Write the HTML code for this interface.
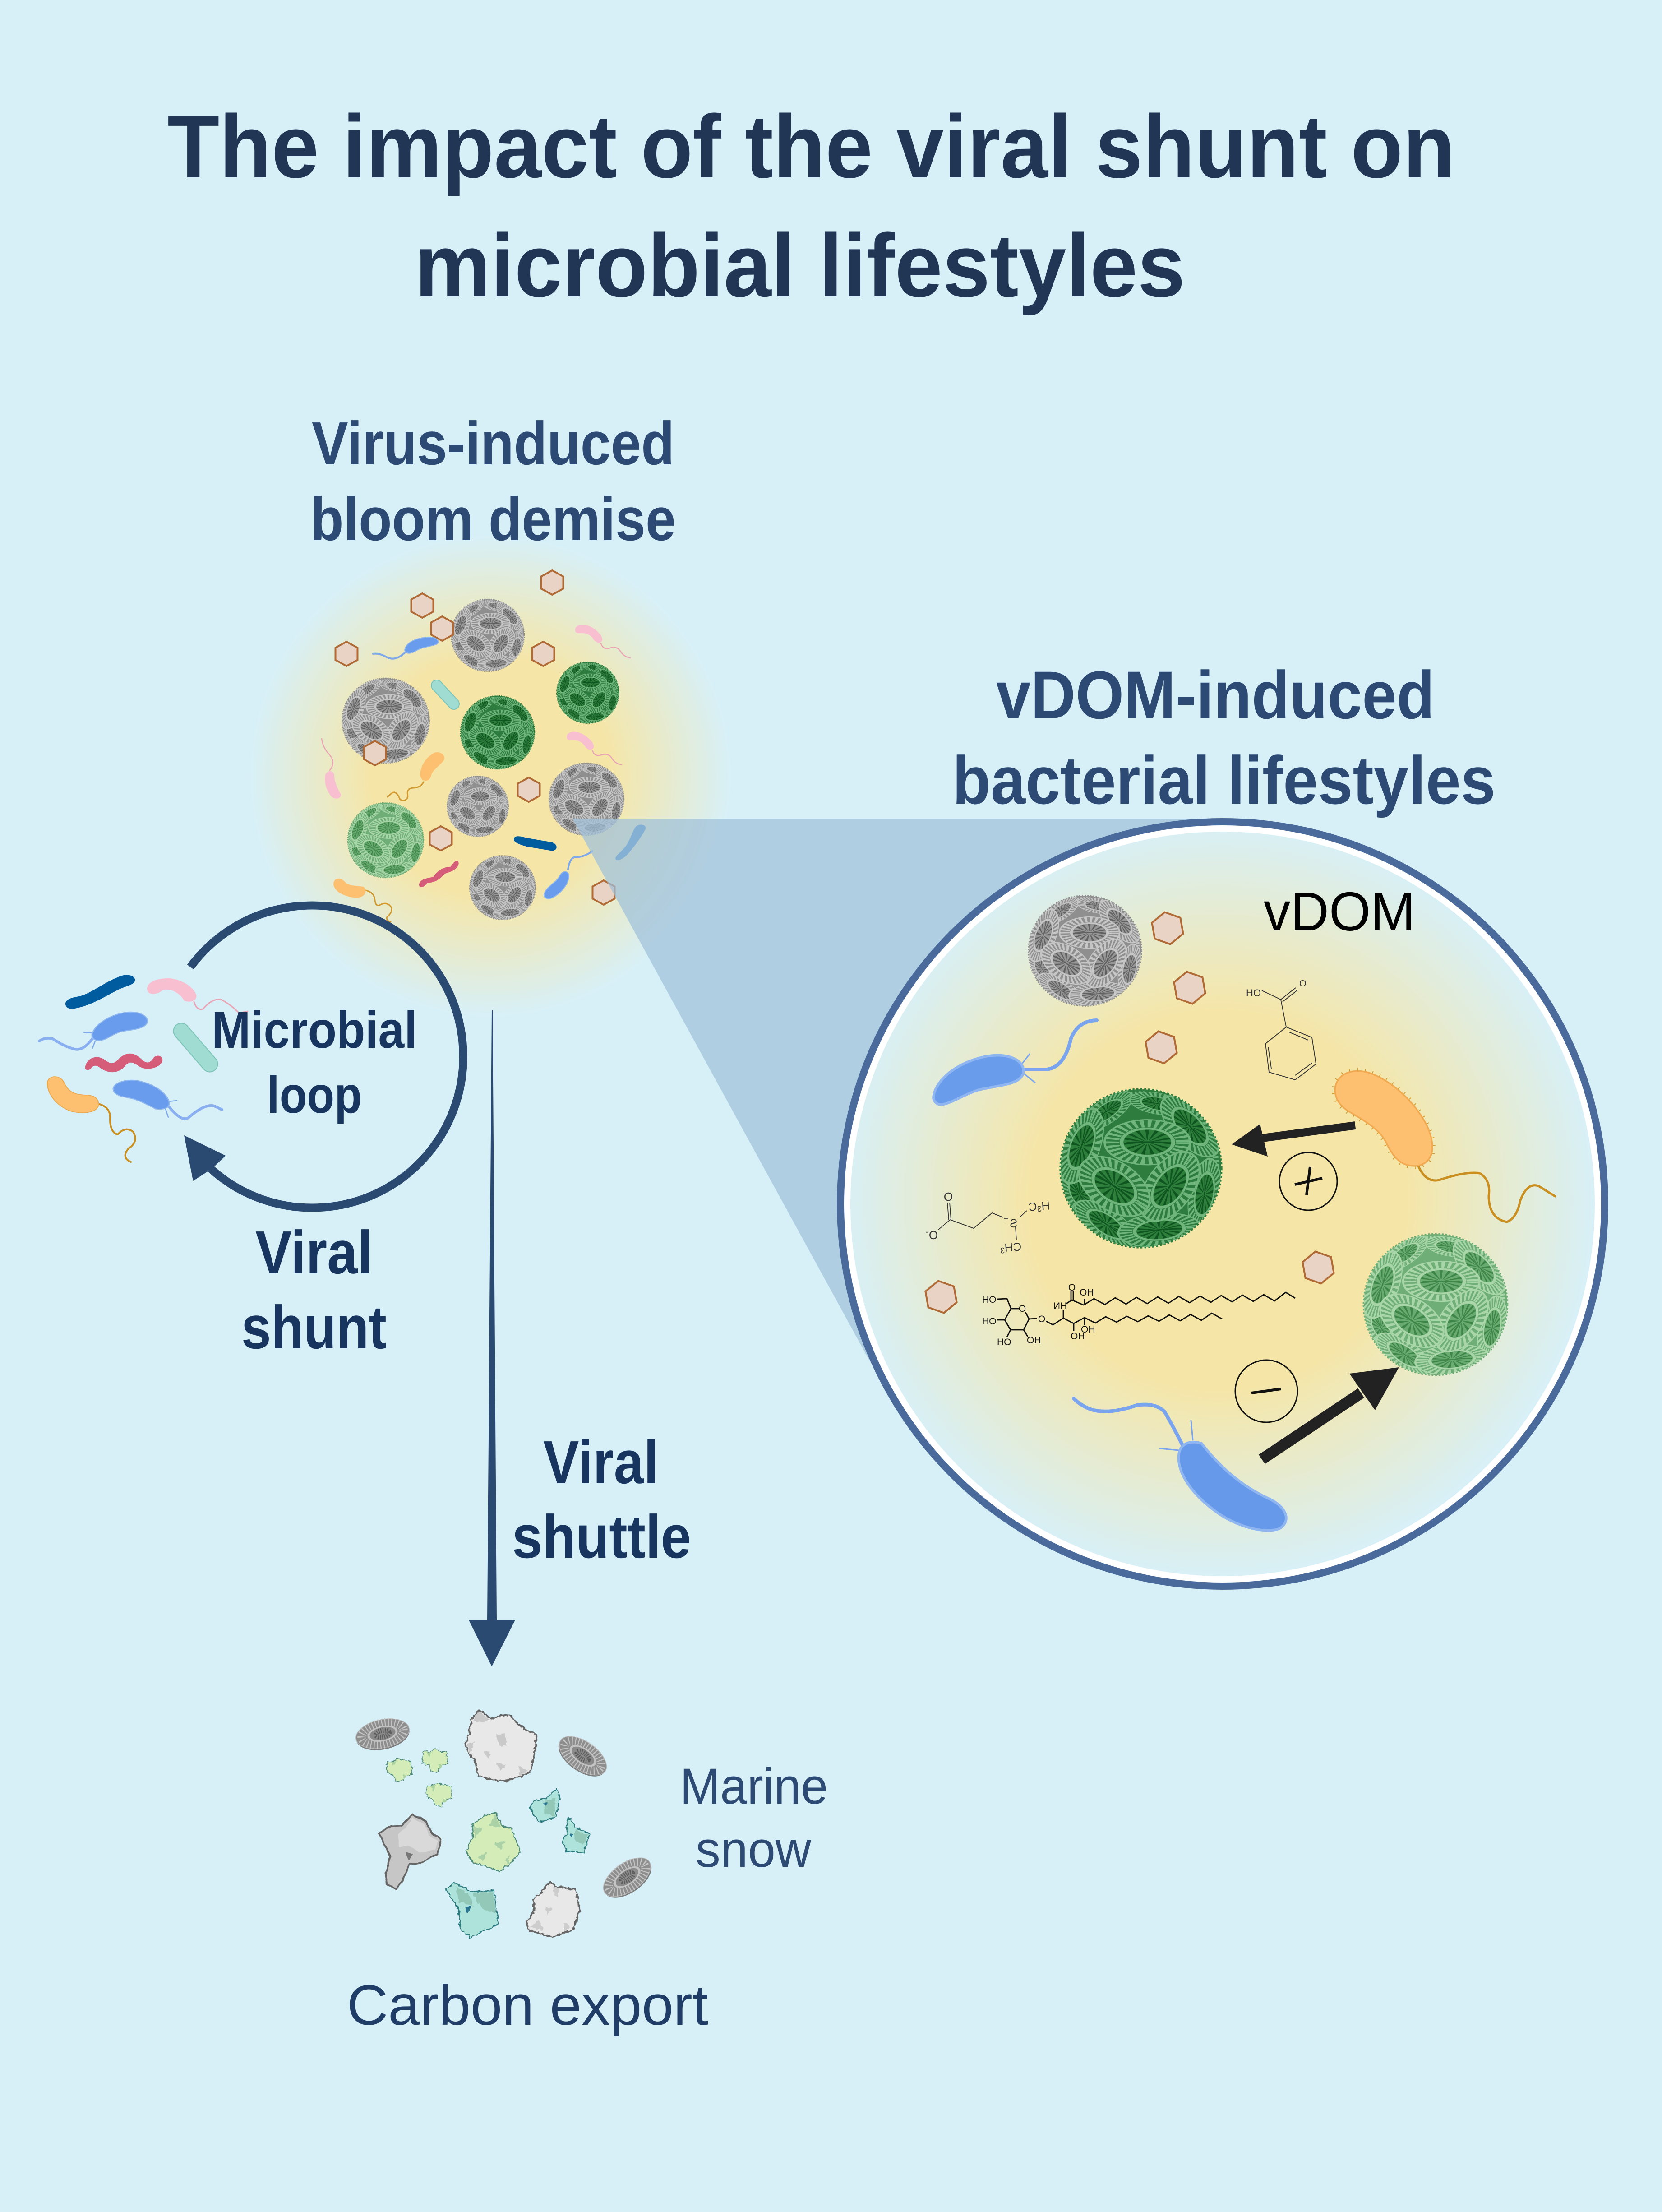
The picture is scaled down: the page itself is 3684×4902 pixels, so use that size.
<!DOCTYPE html>
<html lang="en"><head><meta charset="utf-8"><title>The impact of the viral shunt on microbial lifestyles</title>
<style>
html,body{margin:0;padding:0;background:#d7f0f8}
svg{display:block}
text{font-family:"Liberation Sans",sans-serif}
.t{font-weight:700}
.tail{fill:none;stroke-linecap:round;stroke-linejoin:round}
.c1{fill:none;stroke:#333;stroke-width:1.8;stroke-linejoin:round}
.c2{fill:none;stroke:#111;stroke-width:2.8;stroke-linejoin:round}
.m1{font-size:26px;fill:#333}
.m2{font-size:21px;fill:#111}
.bl{fill:#e8e8e8;stroke:#666;stroke-width:3.5;stroke-linejoin:round}
.gr{fill:#d4edb8;stroke:#4d8a7a;stroke-width:2.5;stroke-linejoin:round}
.te{fill:#aee3db;stroke:#2f7c80;stroke-width:2.5;stroke-linejoin:round}
</style></head><body>
<svg xmlns="http://www.w3.org/2000/svg" width="3684" height="4902" viewBox="0 0 3684 4902">
<defs>
<radialGradient id="g1" gradientUnits="userSpaceOnUse" cx="1087" cy="1720" r="535">
<stop offset="0" stop-color="#f5e6a8"/><stop offset=".5" stop-color="#f5e6a8"/><stop offset="1" stop-color="#d7f0f8"/></radialGradient>
<radialGradient id="g2" gradientUnits="userSpaceOnUse" cx="2700" cy="2660" r="840">
<stop offset="0" stop-color="#f5e6a8"/><stop offset=".5" stop-color="#f5e6a8"/><stop offset="1" stop-color="#d7f0f8"/></radialGradient>
<filter id="rg" x="-15%" y="-15%" width="130%" height="130%" color-interpolation-filters="sRGB">
<feTurbulence type="fractalNoise" baseFrequency=".13" numOctaves="2" seed="3" result="n"/>
<feDisplacementMap in="SourceGraphic" in2="n" scale="9" xChannelSelector="R" yChannelSelector="G"/>
</filter>
<filter id="rs" x="-15%" y="-15%" width="130%" height="130%" color-interpolation-filters="sRGB">
<feTurbulence type="fractalNoise" baseFrequency=".06" numOctaves="1" seed="7" result="n"/>
<feDisplacementMap in="SourceGraphic" in2="n" scale="7" xChannelSelector="R" yChannelSelector="G"/>
</filter>
<clipPath id="sp"><circle r="100"/></clipPath>
<g id="pl">
<circle r="1.9" fill="var(--b)" stroke="var(--l)" stroke-width=".1"/>
<circle r="1.56" fill="none" stroke="var(--l)" stroke-width=".6" stroke-dasharray=".16 .16"/>
<circle r="1.15" fill="var(--h)" stroke="var(--l)" stroke-width=".17"/>
<circle r=".62" fill="none" stroke="var(--s)" stroke-width=".85" stroke-dasharray=".1 .16"/>
<ellipse rx=".95" ry=".07" fill="var(--s)"/>
</g>
<g id="co">
<circle r="100" fill="var(--b)"/>
<circle r="99" fill="none" stroke="var(--b)" stroke-width="5" stroke-dasharray="2.4 2.4"/>
<circle r="94" fill="none" stroke="var(--l)" stroke-width="7" stroke-dasharray="2.5 2.5"/>
<g clip-path="url(#sp)">
<use href="#pl" transform="translate(-43,-72) rotate(-35) scale(20,8)"/>
<use href="#pl" transform="translate(20,-82) rotate(10) scale(18,7)"/>
<use href="#pl" transform="translate(79,33) rotate(-80) scale(24,10)"/>
<use href="#pl" transform="translate(-76,33) rotate(60) scale(18,9)"/>
<use href="#pl" transform="translate(-43,71) rotate(35) scale(24,10)"/>
<use href="#pl" transform="translate(23,78) rotate(-5) scale(27,11)"/>
<use href="#pl" transform="translate(-74,-28) rotate(-70) scale(26,12)"/>
<use href="#pl" transform="translate(61,-53) rotate(48) scale(25,12)"/>
<use href="#pl" transform="translate(8,-33) scale(28,15)"/>
<use href="#pl" transform="translate(36,23) rotate(-55) scale(26,15)"/>
<use href="#pl" transform="translate(-33,23) rotate(35) scale(26,16)"/>
</g>
</g>
<polygon id="hx" points="0,-27 24.5,-13.5 24.5,13.5 0,27 -24.5,13.5 -24.5,-13.5" fill="#e8d3c5" stroke="#b06a35" stroke-width="4"/>
<polygon id="hb" points="0,-36 32,-18 32,18 0,36 -32,18 -32,-18" fill="#e8d3c5" stroke="#b06a35" stroke-width="4"/>
<g id="dia">
<ellipse cy="3" rx="60" ry="32" fill="#7d7d7d"/>
<ellipse rx="60" ry="31" fill="#8e8e8e" stroke="#b2b2b2" stroke-width="1.5"/>
<ellipse rx="47" ry="23.5" fill="none" stroke="#c4c4c4" stroke-width="19" stroke-dasharray="2.2 5"/>
<ellipse rx="34" ry="17" fill="#c2c2c2"/>
<ellipse rx="29" ry="14" fill="#8a8a8a"/>
<ellipse rx="15" ry="7" fill="none" stroke="#5c5c5c" stroke-width="11" stroke-dasharray="2 2.6"/>
</g>
<polygon id="sg" points="-26,-19 -12,-20 -2,-25 12,-20 26,-18 28,-2 29,8 18,12 10,16 4,26 -8,25 -14,11 -26,6 -28,-6"/>
</defs>

<rect width="3684" height="4902" fill="#d7f0f8"/>

<!-- bloom glow -->
<circle cx="1087" cy="1720" r="535" fill="url(#g1)"/>

<!-- cluster coccolithophores -->
<g style="--b:#8f8f8f;--l:#c6c6c6;--h:#979797;--s:#616161">
<use href="#co" transform="translate(1081,1408) scale(.81,.80)"/>
<use href="#co" transform="translate(855,1597) scale(.965,.94)"/>
<use href="#co" transform="translate(1059,1787) scale(.68,.67)"/>
<use href="#co" transform="translate(1300,1771) scale(.83,.80)"/>
<use href="#co" transform="translate(1114,1967) scale(.73,.71)"/>
</g>
<g style="--b:#2e7d3e;--l:#6fb57c;--h:#2f7f3c;--s:#0f5520">
<use href="#co" transform="translate(1303,1535) scale(.69,.68)"/>
<use href="#co" transform="translate(1103,1623) scale(.82,.81)"/>
</g>
<g style="--b:#6fae77;--l:#a9d6a9;--h:#6aab72;--s:#3e8648">
<use href="#co" transform="translate(855,1862) scale(.84,.83)"/>
</g>

<!-- hexagons -->
<use href="#hx" x="1224" y="1291"/><use href="#hx" x="936" y="1342"/><use href="#hx" x="980" y="1393"/>
<use href="#hx" x="768" y="1449"/><use href="#hx" x="1204" y="1449"/><use href="#hx" x="831" y="1669"/>
<use href="#hx" x="1172" y="1750"/><use href="#hx" x="977" y="1858"/><use href="#hx" x="1338" y="1978"/>

<!-- cluster bacteria -->
<path class="tail" d="M899 1445Q875 1468 855 1455Q840 1447 827 1449" stroke="#7fa8ea" stroke-width="4"/>
<path class="tail" d="M1332 1426Q1337 1441 1352 1436Q1367 1431 1375 1443Q1382 1455 1397 1458" stroke="#eaa5b5" stroke-width="2.5"/>
<path class="tail" d="M1313 1663Q1318 1678 1333 1673Q1348 1668 1356 1680Q1363 1692 1378 1695" stroke="#eaa5b5" stroke-width="2.5"/>
<path class="tail" d="M731 1707Q745 1690 730 1672Q716 1658 713 1637" stroke="#eaa5b5" stroke-width="2.5"/>
<path class="tail" d="M939 1733Q932 1746 915 1746Q900 1747 904 1765Q900 1778 887 1772Q878 1750 868 1758L859 1766" stroke="#d19a32" stroke-width="3"/>
<path class="tail" d="M1259 1927Q1262 1905 1272 1900Q1295 1900 1313 1886" stroke="#7fa8ea" stroke-width="4"/>
<path class="tail" d="M811 1973Q830 1978 831 1995Q833 2012 845 2004Q860 1998 868 2012Q870 2022 858 2032Q855 2040 866 2043" stroke="#d19a32" stroke-width="3"/>
<path class="tail" d="M968 1519L1006 1560" stroke="#7cc4b8" stroke-width="26"/>
<path class="tail" d="M968 1519L1006 1560" stroke="#a0dcd2" stroke-width="22"/>
<g transform="translate(550,1200) scale(.7018,.6378)">
<path d="M495 375C500 350 530 335 570 332C595 332 605 345 598 355C585 365 550 365 530 380C515 392 493 392 495 375Z" fill="#6a9cee" stroke="#8fb7ee" stroke-width="3"/>
<path id="pk" d="M1033 305C1035 288 1060 285 1080 295C1105 310 1122 330 1118 345C1110 358 1095 350 1088 335C1075 318 1060 318 1048 318C1038 320 1032 315 1033 305Z" fill="#f7bfd0"/>
<use href="#pk" x="-27" y="372"/>
<path d="M243 815C245 795 268 792 272 810C272 840 285 860 293 880C292 895 275 898 262 885C248 865 240 840 243 815Z" fill="#f7bfd0"/>
<path d="M543 810C545 780 560 750 590 733C610 728 625 745 618 760C605 780 580 795 578 815C570 840 545 835 543 810Z" fill="#fdc071"/>
<path d="M270 1185C275 1165 295 1168 308 1185C320 1198 345 1195 365 1200C378 1215 370 1235 345 1238C310 1238 265 1215 270 1185Z" fill="#fdc071"/>
<path d="M935 1225C940 1200 975 1185 985 1160C995 1140 1015 1145 1013 1165C1010 1195 985 1225 960 1238C945 1245 932 1238 935 1225Z" fill="#6a9cee" stroke="#8fb7ee" stroke-width="3"/>
<path d="M840 1030C845 1020 865 1025 880 1030L960 1045C978 1052 980 1072 960 1075L880 1060C855 1052 835 1045 840 1030Z" fill="#005b9f"/>
<path d="M540 1190C545 1170 570 1170 585 1165C600 1140 620 1130 640 1130C650 1110 665 1100 665 1120C660 1145 630 1150 620 1155C605 1175 590 1185 565 1187C555 1205 538 1205 540 1190Z" fill="#d65d7a"/>
<path d="M1225 990C1240 978 1260 985 1255 1000C1240 1030 1220 1060 1200 1085C1185 1105 1160 1115 1160 1100C1165 1085 1190 1070 1200 1045C1210 1025 1215 1005 1225 990Z" fill="#3f87c2"/>
</g>

<!-- wedge -->
<polygon points="1269,1814 2660,1814 1926,3013" fill="#9fc1d9" fill-opacity=".72"/>

<!-- loop -->
<path d="M422 2143A335 335 0 1 1 465 2588" fill="none" stroke="#2b4a72" stroke-width="18"/>
<polygon points="408,2516 500,2561 470,2590 428,2617" fill="#2b4a72"/>

<!-- left bacteria -->
<path class="tail" d="M430 2220Q436 2240 450 2236Q470 2212 490 2215Q510 2225 530 2245L549 2241" stroke="#eaa5b5" stroke-width="3"/>
<path class="tail" d="M207 2299Q185 2330 165 2325Q140 2318 117 2302Q100 2298 87 2307" stroke="#89aff0" stroke-width="6"/>
<path class="tail" d="M204 2289L186 2288M211 2307L205 2323" stroke="#7fa8ea" stroke-width="2.5"/>
<path class="tail" d="M221 2447Q246 2455 244 2480Q244 2510 261 2514Q278 2495 295 2508Q308 2530 285 2545Q268 2565 290 2575" stroke="#c98f20" stroke-width="4"/>
<path class="tail" d="M375 2453Q405 2490 420 2475Q455 2445 475 2451L492 2459" stroke="#89aff0" stroke-width="6"/>
<path class="tail" d="M374 2441L392 2439M367 2458L373 2476" stroke="#7fa8ea" stroke-width="2.5"/>
<path class="tail" d="M402 2285L465 2358" stroke="#7cc4b8" stroke-width="37"/>
<path class="tail" d="M402 2285L465 2358" stroke="#a0dcd2" stroke-width="33"/>
<g transform="translate(50,1950) scale(.67,.51)">
<path d="M142 535C145 515 170 510 190 505C230 490 270 445 320 420C345 405 372 415 372 435C372 455 345 460 320 475C280 500 230 545 175 558C155 565 140 555 142 535Z" fill="#005b9f"/>
<path d="M412 470C415 440 450 425 490 428C530 435 565 465 575 500C578 525 555 535 535 525C520 490 490 470 465 478C440 505 410 500 412 470Z" fill="#f7bfd0"/>
<path d="M230 670C240 625 290 585 345 575C385 570 415 590 413 615C410 645 370 650 330 658C295 670 280 695 255 698C235 698 228 685 230 670Z" fill="#6a9cee" stroke="#8fb7ee" stroke-width="4"/>
<path d="M207 815C210 780 240 755 270 780C290 800 300 805 320 775C345 745 370 750 390 775C410 800 420 800 435 770C450 755 468 770 462 790C450 820 410 830 385 810C360 785 350 790 335 815C310 845 280 840 255 815C240 800 230 810 225 822C215 830 205 825 207 815Z" fill="#d65d7a"/>
<path d="M82 880C85 850 120 845 135 875C150 920 170 935 215 935C245 938 255 960 250 985C240 1012 200 1018 160 1005C115 985 80 930 82 880Z" fill="#fdc071" stroke="#e8a84c" stroke-width="3"/>
<path d="M300 905C305 880 340 865 380 872C430 885 475 920 485 965C488 990 470 1000 440 995C410 975 385 955 345 945C315 940 298 925 300 905Z" fill="#6a9cee" stroke="#8fb7ee" stroke-width="4"/>
</g>

<!-- vertical arrow -->
<polygon points="1090,2238 1092,2238 1101,3590 1142,3590 1090,3693 1039,3590 1080,3590" fill="#2b4a72"/>

<!-- big circle -->
<circle cx="2710" cy="2668" r="847" fill="#ffffff" stroke="#4a6a9b" stroke-width="16"/>
<circle cx="2710" cy="2668" r="825" fill="url(#g2)"/>

<g style="--b:#8f8f8f;--l:#c6c6c6;--h:#979797;--s:#616161"><use href="#co" transform="translate(2405,2107) scale(1.25,1.22)"/></g>
<g style="--b:#2e7d3e;--l:#6fb57c;--h:#2f7f3c;--s:#0f5520"><use href="#co" transform="translate(2529,2589) scale(1.78,1.75)"/></g>
<g style="--b:#6fae77;--l:#a9d6a9;--h:#6aab72;--s:#3e8648"><use href="#co" transform="translate(3182,2891) scale(1.59,1.56)"/></g>

<use href="#hb" transform="translate(2588,2057) rotate(-10)"/>
<use href="#hb" transform="translate(2637,2189) rotate(-10)"/>
<use href="#hb" transform="translate(2574,2321) rotate(-10)"/>
<use href="#hb" transform="translate(2922,2809) rotate(-10)"/>
<use href="#hb" transform="translate(2086,2874) rotate(-10)"/>

<!-- big bacteria -->
<path class="tail" d="M2271 2370L2320 2370Q2360 2365 2374 2301Q2390 2262 2431 2261" stroke="#7aa5ee" stroke-width="8"/>
<path class="tail" d="M2265 2358L2282 2336M2268 2378L2294 2399" stroke="#7aa5ee" stroke-width="3"/>
<path class="tail" d="M3143 2582Q3160 2622 3190 2615Q3250 2595 3280 2600Q3305 2615 3300 2650Q3300 2700 3340 2708Q3362 2700 3370 2660Q3385 2620 3410 2628L3447 2651" stroke="#c98f20" stroke-width="5"/>
<path class="tail" d="M2625 3210Q2600 3160 2581 3128Q2560 3108 2520 3114Q2460 3135 2420 3124Q2395 3115 2380 3099" stroke="#7aa5ee" stroke-width="8"/>
<path class="tail" d="M2644 3191L2640 3148M2613 3214L2571 3210" stroke="#7aa5ee" stroke-width="3"/>
<g transform="translate(1800,1750) scale(1.148)">
<path d="M235 590C240 560 280 525 340 514C385 508 410 525 408 545C405 570 360 570 320 580C290 590 270 605 250 608C240 608 232 600 235 590Z" fill="#6a9cec" stroke="#8fb6f0" stroke-width="5"/>
<path d="M1010 575C1015 545 1050 535 1085 550C1130 570 1168 610 1188 650C1203 685 1203 718 1170 726C1135 730 1120 705 1108 680C1095 655 1068 640 1038 622C1018 610 1008 595 1010 575Z" fill="none" stroke="#cf9a2e" stroke-width="12" stroke-dasharray="1.5 13"/>
<path d="M1010 575C1015 545 1050 535 1085 550C1130 570 1168 610 1188 650C1203 685 1203 718 1170 726C1135 730 1120 705 1108 680C1095 655 1068 640 1038 622C1018 610 1008 595 1010 575Z" fill="#fdc071" stroke="#f2aa52" stroke-width="3"/>
<path d="M708 1285C710 1262 730 1255 752 1262C790 1310 830 1345 885 1370C915 1385 925 1410 905 1425C880 1438 820 1425 775 1390C735 1360 705 1320 708 1285Z" fill="#6699ea" stroke="#8fb6f0" stroke-width="5"/>
</g>

<!-- arrows and signs -->
<path d="M3004 2494L2799 2522" stroke="#222" stroke-width="18"/>
<polygon points="2730,2536 2793,2491 2810,2563" fill="#222"/>
<path d="M2797 3234L3017 3087" stroke="#222" stroke-width="25"/>
<polygon points="3101,3030 2991,3044 3048,3125" fill="#222"/>
<circle cx="2900" cy="2618" r="64" fill="none" stroke="#111" stroke-width="3"/>
<path d="M2870 2625L2931 2611M2904 2586L2896 2648" stroke="#111" stroke-width="6"/>
<circle cx="2807" cy="3083" r="69" fill="none" stroke="#111" stroke-width="3"/>
<path d="M2774 3087L2839 3078" stroke="#111" stroke-width="6"/>

<!-- benzoic acid -->
<path class="c1" d="M2851 2276L2908 2299L2917 2358L2871 2393L2813 2376L2805 2313ZM2857 2287L2900 2305M2909 2355L2871 2383M2818 2368L2811 2320M2851 2276L2839 2215L2797 2195M2839 2215L2872 2189M2843 2220L2876 2194"/>
<text class="m1" style="font-size:22px" x="2762" y="2208">HO</text>
<text class="m1" style="font-size:20px" x="2880" y="2186">O</text>

<!-- zwitterion -->
<path class="c1" d="M2100 2665L2103 2703M2105 2665L2108 2703M2106 2703L2158 2722L2199 2688L2224 2698M2106 2703L2080 2725M2261 2697L2276 2683M2251 2720L2253 2747"/>
<text class="m1" x="2102" y="2661" text-anchor="middle">O</text>
<text class="m1" transform="translate(2069,2746) scale(-1,1)" text-anchor="middle">O</text>
<text class="m1" style="font-size:20px" x="2052" y="2736">-</text>
<text class="m1" transform="translate(2247,2720) scale(-1,1)" text-anchor="middle">S</text>
<text class="m1" style="font-size:18px" x="2230" y="2707" text-anchor="middle">+</text>
<text class="m1" transform="translate(2304,2682) rotate(-4) scale(-1,1)" text-anchor="middle">H<tspan font-size="18" dy="3">3</tspan><tspan dy="-3">C</tspan></text>
<text class="m1" transform="translate(2241,2773) rotate(-4) scale(-1,1)" text-anchor="middle">CH<tspan font-size="18" dy="3">3</tspan></text>

<!-- cerebroside -->
<path class="c2" d="M2258 2900L2241 2900L2227 2925L2240 2947L2269 2947L2281 2923L2273 2908M2241 2900L2232 2878L2210 2879M2227 2925L2211 2925M2240 2947L2232 2963M2269 2947L2278 2962M2281 2923L2298 2922M2319 2928L2334 2936L2357 2921L2380 2933L2404 2920L2428 2932L2451 2918L2475 2930L2498 2917L2522 2929L2545 2916L2569 2928L2592 2914L2616 2927L2639 2913L2663 2926L2686 2910L2709 2923M2357 2921L2357 2904M2362 2890L2376 2881L2402 2892L2425 2878L2449 2891L2472 2876L2496 2890L2519 2875L2543 2889L2566 2874L2590 2888L2613 2873L2637 2887L2660 2872L2684 2886L2707 2871L2731 2885L2754 2870L2778 2884L2801 2869L2825 2883L2850 2864L2871 2877M2374 2881L2374 2862M2379 2881L2379 2862M2404 2892L2404 2878M2404 2920L2404 2937M2380 2933L2380 2950"/>
<text class="m2" x="2177" y="2887">HO</text>
<text class="m2" x="2266" y="2907" text-anchor="middle">O</text>
<text class="m2" x="2177" y="2935">HO</text>
<text class="m2" x="2210" y="2981">HO</text>
<text class="m2" x="2276" y="2977">OH</text>
<text class="m2" x="2309" y="2930" text-anchor="middle">O</text>
<text class="m2" transform="translate(2350,2901) scale(-1,1)" text-anchor="middle">HN</text>
<text class="m2" x="2376" y="2860" text-anchor="middle">O</text>
<text class="m2" x="2393" y="2871">OH</text>
<text class="m2" x="2396" y="2953">OH</text>
<text class="m2" x="2373" y="2968">OH</text>

<!-- marine snow -->
<use href="#dia" transform="translate(848,3842) rotate(-12)"/>
<use href="#dia" transform="translate(1292,3891) rotate(35)"/>
<use href="#dia" transform="translate(1390,4160) rotate(-35)"/>
<g filter="url(#rg)">
<polygon class="bl" points="1062,3790 1070,3794 1087,3809 1110,3802 1128,3800 1154,3825 1165,3832 1189,3845 1186,3875 1182,3898 1180,3915 1174,3928 1150,3938 1118,3947 1085,3942 1059,3934 1056,3915 1052,3898 1038,3885 1031,3866 1040,3840 1044,3811"/>
<g fill="#c9c9c9"><polygon points="1062,3792 1085,3812 1066,3818 1048,3812"/><polygon points="1100,3845 1118,3842 1124,3868 1108,3870"/><polygon points="1100,3905 1120,3912 1110,3925"/><polygon points="1150,3912 1170,3925 1152,3935"/><polygon points="1035,3866 1052,3860 1042,3885"/><polygon points="1070,3880 1090,3885 1082,3900"/></g>
<polygon class="bl" points="1219,4171 1235,4181 1276,4187 1285,4232 1271,4276 1223,4293 1174,4278 1166,4264 1184,4234 1182,4210 1202,4191"/>
<g fill="#cdcdcd"><polygon points="1225,4180 1240,4185 1236,4205 1228,4200"/><polygon points="1175,4270 1195,4255 1205,4280"/><polygon points="1250,4260 1265,4270 1250,4282"/><polygon points="1210,4225 1225,4230 1212,4245"/></g>
</g>
<g filter="url(#rg)">
<g class="gr" style="stroke-width:1.5"><use href="#sg" x="885" y="3922"/><use href="#sg" x="964" y="3901"/><use href="#sg" x="973" y="3976"/></g>
<g fill="#aad2a0"><polygon points="866,3903 880,3902 872,3915"/><polygon points="945,3883 958,3882 950,3895"/><polygon points="955,3958 968,3957 960,3970"/><polygon points="893,3930 903,3935 894,3942"/><polygon points="972,3909 982,3914 973,3921"/><polygon points="981,3984 991,3989 982,3996"/></g>
<polygon class="gr" points="1098,4017 1113,4046 1133,4052 1143,4076 1153,4104 1133,4127 1108,4148 1077,4135 1047,4127 1034,4102 1047,4072 1047,4044 1072,4024"/>
<g fill="#abd2a6"><polygon points="1098,4020 1110,4048 1084,4046"/><polygon points="1050,4046 1068,4052 1052,4075"/><polygon points="1095,4085 1120,4078 1110,4100"/><polygon points="1060,4115 1078,4105 1072,4125"/><polygon points="1118,4125 1130,4110 1128,4130"/></g>
<polygon class="te" points="1233,3965 1241,3981 1233,4026 1197,4038 1184,4024 1175,4005 1182,3991 1210,3985"/>
<polygon class="te" points="1263,4028 1276,4050 1307,4064 1294,4106 1256,4102 1247,4086 1256,4060 1256,4036"/>
<polygon class="te" points="1008,4172 1047,4192 1095,4190 1100,4234 1105,4264 1077,4278 1044,4293 1021,4276 1016,4230 988,4187"/>
<g fill="#93c8b8"><polygon points="1047,4195 1093,4193 1098,4240 1070,4230 1060,4215"/><polygon points="1010,4180 1040,4198 1050,4225 1018,4215"/><polygon points="1210,3990 1230,3985 1230,4025 1205,4020"/><polygon points="1275,4055 1303,4066 1292,4090 1272,4075"/></g>
<polygon points="1030,4225 1044,4225 1037,4240" fill="#2a7590"/>
<polygon points="1205,3994 1214,3994 1210,4003" fill="#2a7590"/>
<polygon points="1264,4062 1272,4066 1265,4072" fill="#2a7590"/>
</g>
<g filter="url(#rs)">
<polygon points="914,4020 944,4036 955,4060 977,4076 970,4109 934,4127 909,4131 893,4167 878,4186 858,4175 854,4151 865,4115 840,4064 868,4046 891,4045" fill="#c6c6c6" stroke="#666" stroke-width="4" stroke-linejoin="round"/>
<polygon points="914,4028 940,4042 950,4066 970,4080 964,4100 930,4105 905,4090 885,4095 882,4065 900,4050" fill="#d9d9d9"/>
<polygon points="899,4103 916,4108 906,4124" fill="#777"/>
</g>

<!-- text -->
<g class="t">
<text x="371" y="393" font-size="198" fill="#213655" textLength="2854" lengthAdjust="spacingAndGlyphs">The impact of the viral shunt on</text>
<text x="919" y="657" font-size="198" fill="#213655" textLength="1708" lengthAdjust="spacingAndGlyphs">microbial lifestyles</text>
<text x="691" y="1029" font-size="135" fill="#2c4a73" textLength="804" lengthAdjust="spacingAndGlyphs">Virus-induced</text>
<text x="688" y="1197" font-size="135" fill="#2c4a73" textLength="810" lengthAdjust="spacingAndGlyphs">bloom demise</text>
<text x="2208" y="1592" font-size="150" fill="#2c4a73" textLength="972" lengthAdjust="spacingAndGlyphs">vDOM-induced</text>
<text x="2111" y="1781" font-size="150" fill="#2c4a73" textLength="1204" lengthAdjust="spacingAndGlyphs">bacterial lifestyles</text>
<text x="469" y="2322" font-size="115" fill="#17355f" textLength="456" lengthAdjust="spacingAndGlyphs">Microbial</text>
<text x="592" y="2466" font-size="115" fill="#17355f" textLength="210" lengthAdjust="spacingAndGlyphs">loop</text>
<text x="566" y="2822" font-size="135" fill="#17355f" textLength="260" lengthAdjust="spacingAndGlyphs">Viral</text>
<text x="535" y="2988" font-size="135" fill="#17355f" textLength="322" lengthAdjust="spacingAndGlyphs">shunt</text>
<text x="1204" y="3287" font-size="135" fill="#17355f" textLength="256" lengthAdjust="spacingAndGlyphs">Viral</text>
<text x="1135" y="3452" font-size="135" fill="#17355f" textLength="397" lengthAdjust="spacingAndGlyphs">shuttle</text>
</g>
<text x="2801" y="2062" font-size="122" fill="#000" textLength="336" lengthAdjust="spacingAndGlyphs">vDOM</text>
<text x="1507" y="3997" font-size="112" fill="#2c4a73" textLength="328" lengthAdjust="spacingAndGlyphs">Marine</text>
<text x="1542" y="4137" font-size="112" fill="#2c4a73" textLength="256" lengthAdjust="spacingAndGlyphs">snow</text>
<text x="769" y="4487" font-size="125" fill="#1f3d66" textLength="801" lengthAdjust="spacingAndGlyphs">Carbon export</text>
</svg>
</body></html>
